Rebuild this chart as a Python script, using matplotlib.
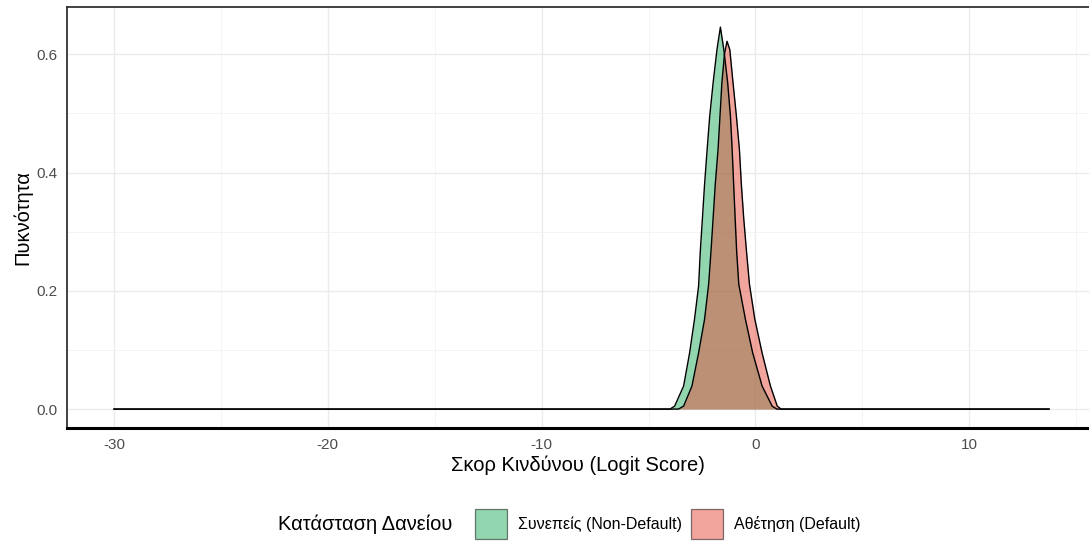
import numpy as np
import matplotlib.pyplot as plt
from matplotlib.patches import Patch
from matplotlib.ticker import MultipleLocator

plt.rcParams['font.family'] = ['Liberation Sans', 'DejaVu Sans']
plt.rcParams['axes.unicode_minus'] = False

# density curves (logit score, density)
good_x = [-30, -4.0, -3.78, -3.36, -3.08, -2.85, -2.66, -2.58, -2.48, -2.38, -2.26, -2.14,
          -1.98, -1.80, -1.64, -1.48, -1.30, -1.17, -1.09, -1.02, -0.95, -0.88, -0.78,
          -0.47, -0.13, 0.31, 0.78, 1.0, 13.73]
good_y = [0, 0, 0.005, 0.039, 0.095, 0.152, 0.208, 0.267, 0.323, 0.380, 0.439, 0.495,
          0.552, 0.608, 0.646, 0.608, 0.552, 0.495, 0.439, 0.380, 0.323, 0.267, 0.211,
          0.152, 0.095, 0.039, 0.005, 0, 0]

bad_x = [-30, -3.6, -3.36, -2.97, -2.66, -2.38, -2.19, -2.08, -1.98, -1.88, -1.75, -1.66,
         -1.57, -1.45, -1.33, -1.20, -1.05, -0.89, -0.75, -0.66, -0.55, -0.42, -0.28,
         -0.03, 0.31, 0.70, 1.02, 1.2, 13.73]
bad_y = [0, 0, 0.005, 0.039, 0.095, 0.152, 0.211, 0.267, 0.323, 0.380, 0.439, 0.495,
         0.552, 0.600, 0.622, 0.608, 0.552, 0.495, 0.439, 0.380, 0.323, 0.267, 0.211,
         0.152, 0.095, 0.039, 0.005, 0, 0]

labels = ['Συνεπείς (Non-Default)', 'Αθέτηση (Default)']
colors = ['#27ae60', '#e74c3c']

fig = plt.figure(figsize=(10.89, 5.42), dpi=100)
ax = fig.add_axes([67/1089, 1 - 428/542, 1 - 67/1089, (428 - 7)/542])

for xs, ys, c in [(good_x, good_y, colors[0]), (bad_x, bad_y, colors[1])]:
    ax.fill_between(xs, ys, 0, color=c, alpha=0.5, lw=0)
    ax.plot(xs, ys, color='black', lw=1)

ax.set_xlim(-32.2, 15.6)
ax.set_ylim(-0.032, 0.68)
ax.xaxis.set_major_locator(MultipleLocator(10))
ax.xaxis.set_minor_locator(MultipleLocator(5))
ax.yaxis.set_major_locator(MultipleLocator(0.2))
ax.yaxis.set_minor_locator(MultipleLocator(0.1))
ax.yaxis.set_major_formatter(plt.FormatStrFormatter('%.1f'))
ax.grid(which='major', color='#ebebeb', lw=1)
ax.grid(which='minor', color='#f2f2f2', lw=0.6)
ax.set_axisbelow(True)
ax.tick_params(which='both', length=0, labelsize=11, labelcolor='#4d4d4d')
ax.tick_params(axis='x', pad=7)
ax.tick_params(axis='y', pad=7)

ax.spines['right'].set_visible(False)
ax.spines['top'].set_color('#333333')
ax.spines['left'].set_color('#333333')
ax.spines['top'].set_linewidth(1.3)
ax.spines['left'].set_linewidth(1.3)
ax.spines['bottom'].set_color('black')
ax.spines['bottom'].set_linewidth(2.2)

ax.set_xlabel('Σκορ Κινδύνου (Logit Score)', fontsize=14.5, labelpad=3)
ax.set_ylabel('Πυκνότητα', fontsize=14.5, labelpad=3)

handles = [Patch(facecolor=c, alpha=0.5, edgecolor='black', lw=0.9) for c in colors]
fig.text(452/1089, 1 - 524/542, 'Κατάσταση Δανείου', fontsize=14.5, va='center', ha='right')
fig.legend(handles, labels, ncol=2, loc='center left', bbox_to_anchor=(475/1089, 1 - 524/542),
           frameon=False, fontsize=11.5, handlelength=2.0, handleheight=2.6,
           handletextpad=0.7, columnspacing=0.55, borderpad=0, borderaxespad=0)

fig.savefig('out.png', dpi=100)
